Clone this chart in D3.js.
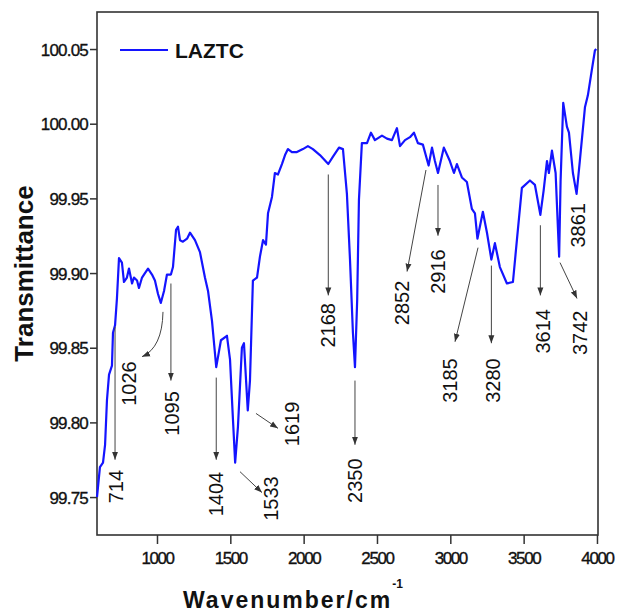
<!DOCTYPE html>
<html>
<head>
<meta charset="utf-8">
<script src="https://cdn.jsdelivr.net/npm/d3@7"></script>
<style>
  html, body { margin: 0; padding: 0; background: #fff; }
  svg { display: block; }
</style>
</head>
<body>
<svg id="chart" width="618" height="614"></svg>
<script>
// FTIR spectrum of LAZTC: wavenumber (cm-1) and transmittance
const wavenumber = [
  591, 611, 632, 646, 659, 673, 693, 700, 714, 727, 741, 761, 775, 795, 809, 830, 843, 864, 877, 898,
  918, 939, 966, 986, 1007, 1026, 1048, 1068, 1095, 1109, 1130, 1143, 1157, 1177, 1205, 1225, 1259, 1293, 1327, 1348,
  1375, 1404, 1436, 1477, 1498, 1518, 1533, 1552, 1579, 1593, 1619, 1634, 1654, 1682, 1702, 1723, 1743, 1757, 1784, 1804,
  1825, 1852, 1873, 1893, 1920, 1954, 1995, 2029, 2063, 2111, 2168, 2200, 2241, 2268, 2295, 2316, 2336, 2350, 2365, 2377,
  2397, 2432, 2459, 2486, 2534, 2568, 2602, 2636, 2657, 2691, 2725, 2752, 2779, 2813, 2852, 2875, 2895, 2916, 2956, 2997,
  3025, 3045, 3079, 3113, 3147, 3168, 3185, 3222, 3250, 3280, 3304, 3338, 3386, 3427, 3454, 3488, 3543, 3577, 3614, 3636,
  3659, 3672, 3693, 3718, 3742, 3752, 3770, 3795, 3809, 3836, 3861, 3883, 3918, 3938, 3965, 3986, 3995
];
const transmittance = [
  99.750, 99.770, 99.773, 99.785, 99.815, 99.832, 99.838, 99.860, 99.865, 99.883, 99.910, 99.907, 99.894, 99.897, 99.903, 99.893, 99.897, 99.895, 99.890, 99.897,
  99.900, 99.903, 99.899, 99.895, 99.886, 99.880, 99.888, 99.899, 99.899, 99.904, 99.929, 99.931, 99.922, 99.921, 99.923, 99.927, 99.922, 99.914, 99.897, 99.888,
  99.868, 99.837, 99.855, 99.858, 99.842, 99.802, 99.773, 99.797, 99.850, 99.853, 99.808, 99.828, 99.895, 99.897, 99.911, 99.922, 99.919, 99.940, 99.951, 99.967,
  99.966, 99.973, 99.979, 99.983, 99.981, 99.981, 99.983, 99.985, 99.983, 99.979, 99.973, 99.978, 99.984, 99.983, 99.953, 99.909, 99.860, 99.837, 99.882, 99.949,
  99.987, 99.987, 99.994, 99.989, 99.992, 99.990, 99.989, 99.997, 99.985, 99.989, 99.991, 99.994, 99.987, 99.986, 99.972, 99.984, 99.975, 99.967, 99.984, 99.975,
  99.967, 99.973, 99.964, 99.961, 99.943, 99.940, 99.923, 99.941, 99.927, 99.909, 99.920, 99.904, 99.893, 99.894, 99.922, 99.957, 99.962, 99.959, 99.939, 99.955,
  99.975, 99.967, 99.982, 99.967, 99.911, 99.962, 100.014, 99.998, 99.994, 99.967, 99.953, 99.975, 100.011, 100.019, 100.036, 100.049, 100.050
];

const xTicks = [1000, 1500, 2000, 2500, 3000, 3500, 4000];
const yTicks = [99.75, 99.80, 99.85, 99.90, 99.95, 100.00, 100.05];

// Band assignments: label text, arrow tail, arrow head, label centre (all in data units)
const peakLabels = ["714", "1026", "1095", "1404", "1533", "1619", "2168", "2350",
                    "2852", "2916", "3185", "3280", "3614", "3742", "3861"];
const arrowTail = [[714, 99.864], [1041, 99.874], [1095, 99.893], [1404, 99.830], [1566, 99.767], [1675, 99.806],
                   [2168, 99.966], [2350, 99.828], [2834, 99.969], [2916, 99.959], [3189, 99.917], [3280, 99.905],
                   [3614, 99.932], [3748, 99.907], null];
const arrowHead = [[714, 99.775], [898, 99.844], [1095, 99.828], [1404, 99.775], [1716, 99.753], [1825, 99.796],
                   [2168, 99.885], [2350, 99.785], [2705, 99.901], [2916, 99.925], [3032, 99.854], [3280, 99.853],
                   [3614, 99.885], [3864, 99.883], null];
const arrowBend = [null, [1036, 99.850], null, null, null, null, null, null, null, null, null, null, null, null, null];
const labelAt = [[716, 99.757], [809, 99.826], [1102, 99.806], [1404, 99.752], [1777, 99.749], [1920, 99.799],
                 [2162, 99.865], [2350, 99.761], [2670, 99.880], [2916, 99.901], [2998, 99.828], [3293, 99.828],
                 [3632, 99.861], [3884, 99.860], [3870, 99.932]];

const seriesName = "LAZTC";

const svg = d3.select("#chart");
const plot = { left: 97, right: 598, top: 12, bottom: 535 };

const x = d3.scaleLinear().domain([591, 4007]).range([plot.left, plot.right]);
const y = d3.scaleLinear().domain([99.7246, 100.0748]).range([plot.bottom, plot.top]);

const axisColor = "#333";

// arrowhead marker
svg.append("defs").append("marker")
  .attr("id", "arrow")
  .attr("viewBox", "0 -4 8 8")
  .attr("refX", 8).attr("refY", 0)
  .attr("markerWidth", 8).attr("markerHeight", 8)
  .attr("markerUnits", "userSpaceOnUse")
  .attr("orient", "auto")
  .append("path")
  .attr("d", "M0,-3L8,0L0,3Z")
  .attr("fill", "#333");

// frame
svg.append("rect")
  .attr("x", plot.left).attr("y", plot.top)
  .attr("width", plot.right - plot.left).attr("height", plot.bottom - plot.top)
  .attr("fill", "none").attr("stroke", axisColor).attr("stroke-width", 1.6);

// axes
const xAxis = svg.append("g")
  .attr("transform", `translate(0,${plot.bottom})`)
  .call(d3.axisBottom(x).tickValues(xTicks).tickSize(9).tickPadding(8).tickFormat(d3.format("d")));
const yAxis = svg.append("g")
  .attr("transform", `translate(${plot.left},0)`)
  .call(d3.axisLeft(y).tickValues(yTicks).tickSize(7).tickPadding(2).tickFormat(d3.format(".2f")));

[xAxis, yAxis].forEach(g => {
  g.select(".domain").remove();
  g.selectAll(".tick line").attr("stroke", axisColor).attr("stroke-width", 1.5);
  g.selectAll(".tick text")
    .attr("fill", "#111")
    .style("font-family", "'Liberation Sans', Arial, sans-serif")
    .style("font-size", "17px")
    .style("stroke", "#111").style("stroke-width", "0.35px");
});
xAxis.selectAll(".tick text").style("letter-spacing", "-1.4px");
yAxis.selectAll(".tick text").style("letter-spacing", "-0.8px").attr("dy", "0.36em");

// spectrum
const pts = wavenumber.map((w, i) => [w, transmittance[i]]);
svg.append("path")
  .datum(pts)
  .attr("fill", "none")
  .attr("stroke", "#1414ff")
  .attr("stroke-width", 2.2)
  .attr("stroke-linejoin", "round")
  .attr("d", d3.line().x(d => x(d[0])).y(d => y(d[1])));

// band arrows and labels
const ann = svg.append("g");
peakLabels.forEach((txt, i) => {
  const t = arrowTail[i], h = arrowHead[i];
  if (t && h) {
    let d;
    if (arrowBend[i]) {
      const c = arrowBend[i];
      d = `M${x(t[0])},${y(t[1])}Q${x(c[0])},${y(c[1])} ${x(h[0])},${y(h[1])}`;
    } else {
      d = `M${x(t[0])},${y(t[1])}L${x(h[0])},${y(h[1])}`;
    }
    ann.append("path")
      .attr("d", d)
      .attr("fill", "none")
      .attr("stroke", "#444")
      .attr("stroke-width", 1)
      .attr("marker-end", "url(#arrow)");
  }
  const p = labelAt[i];
  ann.append("text")
    .attr("transform", `translate(${x(p[0])},${y(p[1])}) rotate(-90)`)
    .attr("text-anchor", "middle")
    .attr("dy", "0.36em")
    .style("font-family", "'Liberation Sans', Arial, sans-serif")
    .style("font-size", "20px")
    .attr("fill", "#111")
    .text(txt);
});

// legend
svg.append("line")
  .attr("x1", 120).attr("x2", 168).attr("y1", 50).attr("y2", 50)
  .attr("stroke", "#1414ff").attr("stroke-width", 2.2);
svg.append("text")
  .attr("x", 175).attr("y", 57.5)
  .style("font-family", "'Liberation Sans', Arial, sans-serif")
  .style("font-size", "21px")
  .style("font-weight", "bold")
  .attr("fill", "#111")
  .text(seriesName);

// axis titles
svg.append("text")
  .attr("transform", `translate(33,${(plot.top + plot.bottom) / 2}) rotate(-90)`)
  .attr("text-anchor", "middle")
  .style("font-family", "'Liberation Sans', Arial, sans-serif")
  .style("font-size", "26px")
  .style("font-weight", "bold")
  .attr("fill", "#111")
  .text("Transmittance");

const xt = svg.append("text")
  .attr("x", 183).attr("y", 608)
  .style("font-family", "'Liberation Sans', Arial, sans-serif")
  .style("font-size", "23px")
  .style("font-weight", "bold")
  .style("letter-spacing", "2px")
  .attr("fill", "#111");
xt.append("tspan").text("Wavenumber/cm");
xt.append("tspan")
  .attr("dy", -20)
  .style("font-size", "12px")
  .style("letter-spacing", "0px")
  .text("-1");
</script>
</body>
</html>
